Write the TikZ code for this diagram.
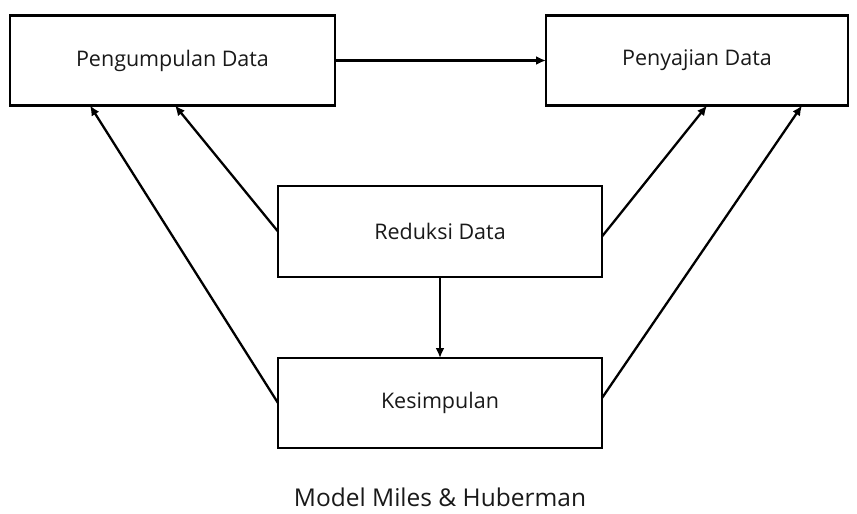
\documentclass[tikz,border=0pt]{standalone}
\usepackage{fontspec}
\setmainfont{Open Sans}
\usetikzlibrary{arrows.meta,positioning,calc}

\begin{document}
\begin{tikzpicture}[x=1pt,y=-1pt,
box/.style={draw,line width=2.6pt,inner sep=0pt,outer sep=0pt,align=center,text=black!90,font=\fontsize{21.5}{25}\selectfont},
flow/.style={-{Latex[length=10pt,width=9pt]},line width=2.3pt},
node distance=81pt and 211pt]
\useasboundingbox (0,0) rectangle (857,514);
\node[box,minimum width=325pt,minimum height=90pt] (kumpul) at (172.5,60.5) {Pengumpulan Data};
\node[box,minimum width=302pt,minimum height=90pt,right=of kumpul] (saji) {Penyajian Data};
\node[box,minimum width=324pt,minimum height=91pt] (reduksi) at (440,231.5) {Reduksi Data};
\node[box,minimum width=324pt,minimum height=90pt,below=of reduksi] (simpul) {Kesimpulan};
\node[text=black!90,font=\fontsize{24.5}{29}\selectfont] (judul) at (440,497) {Model Miles \& Huberman};
\draw[flow] (kumpul) -- (saji);
\draw[flow] (reduksi) -- (simpul);
\draw[flow] (reduksi.west) -- ($(kumpul.south west)+(165,0)$);
\draw[flow] (simpul.west) -- ($(kumpul.south west)+(80,0)$);
\draw[flow] ($(reduksi.east)+(0,5)$) -- ($(saji.south west)+(161,0)$);
\draw[flow] ($(simpul.east)+(0,-5)$) -- ($(saji.south west)+(256,0)$);
\end{tikzpicture}
\end{document}
